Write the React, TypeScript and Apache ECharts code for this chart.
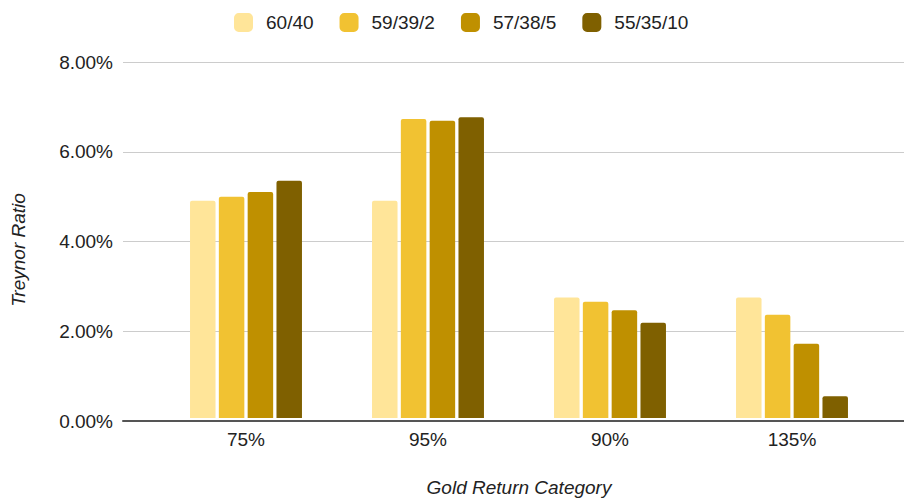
import React, { useEffect, useRef } from "react";
import * as echarts from "echarts";

const categories = ["75%", "95%", "90%", "135%"];
const seriesNames = ["60/40", "59/39/2", "57/38/5", "55/35/10"];
const s6040 = [0.0488, 0.0488, 0.0271, 0.0271];
const s59392 = [0.0497, 0.0672, 0.0261, 0.0232];
const s57385 = [0.0508, 0.0668, 0.0242, 0.0167];
const s553510 = [0.0533, 0.0676, 0.0214, 0.0049];
const seriesValues = [s6040, s59392, s57385, s553510];
const colors = ["#FFE599", "#F1C232", "#BF9000", "#7F6000"];
const yTicks = { min: 0, max: 0.08, interval: 0.02 };

export default function App() {
  const ref = useRef<HTMLDivElement>(null);
  useEffect(() => {
    if (!ref.current) return;
    const chart = echarts.init(ref.current, undefined, { renderer: "svg" });
    const font = "Arial, 'Liberation Sans', sans-serif";
    chart.setOption({
      animation: false,
      textStyle: { fontFamily: font },
      legend: {
        top: 13,
        left: 234,
        padding: 0,
        itemWidth: 19,
        itemHeight: 19,
        itemGap: 26,
        icon: "roundRect",
        data: seriesNames,
        textStyle: { fontSize: 19, color: "#222", padding: [0, 0, 0, 8], fontFamily: font },
      },
      grid: [
        { left: 123, right: 0, top: 62, bottom: 81 },
        { left: 155, right: 21, top: 62, bottom: 81 },
      ],
      xAxis: [
        {
          gridIndex: 0,
          type: "value",
          min: 0,
          max: 1,
          axisLine: { show: true, lineStyle: { color: "#555", width: 2 } },
          axisTick: { show: false },
          axisLabel: { show: false },
          splitLine: { show: false },
        },
        {
          gridIndex: 1,
          type: "category",
          data: categories,
          axisLine: { show: false },
          axisTick: { show: false },
          axisLabel: { fontSize: 19, color: "#222", margin: 12, fontFamily: font },
          name: "Gold Return Category",
          nameLocation: "middle",
          nameGap: 60,
          nameTextStyle: { fontSize: 19, fontStyle: "italic", color: "#222", fontFamily: font },
        },
      ],
      yAxis: [
        {
          gridIndex: 0,
          type: "value",
          min: yTicks.min,
          max: yTicks.max,
          interval: yTicks.interval,
          axisLine: { show: false },
          axisTick: { show: false },
          axisLabel: {
            fontSize: 19,
            color: "#222",
            margin: 10,
            fontFamily: font,
            formatter: (v: number) => (v * 100).toFixed(2) + "%",
          },
          splitLine: { lineStyle: { color: "#cccccc", width: 1 } },
        },
        {
          gridIndex: 1,
          type: "value",
          min: yTicks.min,
          max: yTicks.max,
          interval: yTicks.interval,
          show: false,
          splitLine: { show: false },
        },
      ],
      graphic: [
        {
          type: "text",
          x: 18,
          y: 250,
          rotation: Math.PI / 2,
          style: {
            text: "Treynor Ratio",
            fontSize: 19,
            fontStyle: "italic",
            fill: "#222",
            fontFamily: font,
            align: "center",
            verticalAlign: "middle",
          },
        },
      ],
      series: seriesNames.map((name, i) => ({
        name,
        type: "bar",
        xAxisIndex: 1,
        yAxisIndex: 1,
        data: seriesValues[i],
        barWidth: 25.5,
        barGap: "13%",
        itemStyle: { color: colors[i], borderRadius: [2, 2, 0, 0] },
      })),
    });
    return () => chart.dispose();
  }, []);
  return <div ref={ref} style={{ width: 904, height: 502, position: "absolute", left: 0, top: 0 }} />;
}
